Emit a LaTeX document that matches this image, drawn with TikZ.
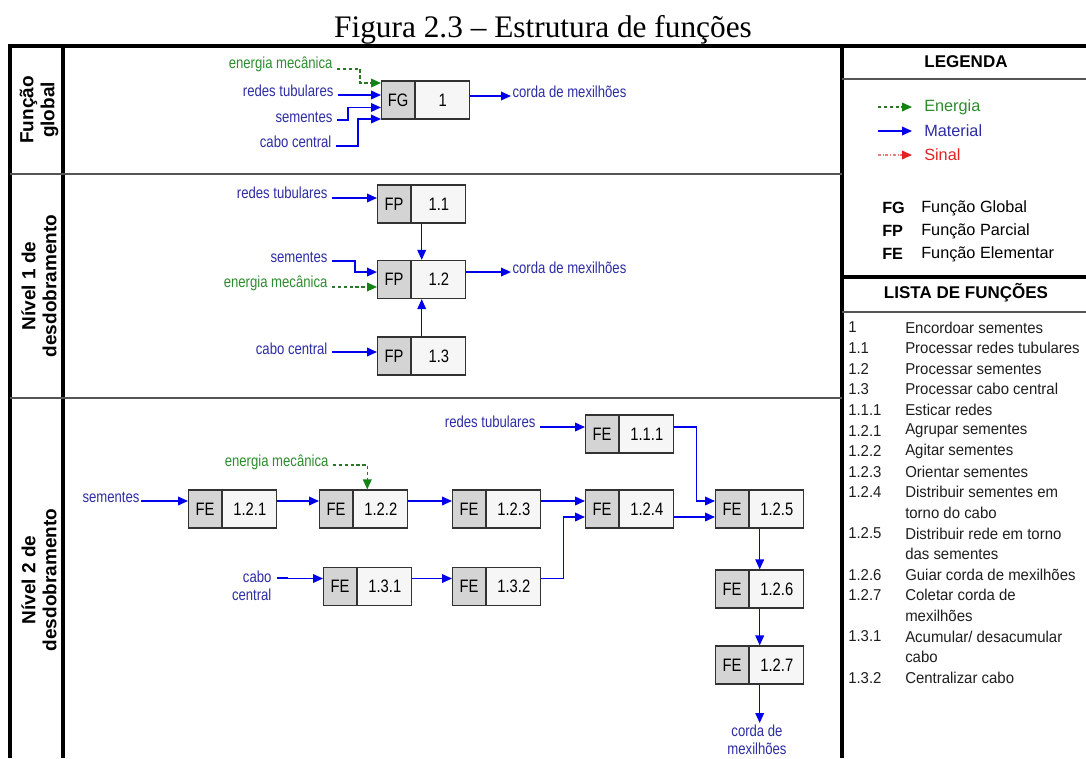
\documentclass[tikz,border=0pt]{standalone}
\usepackage{fontspec}
\setmainfont{Liberation Serif}
\newfontfamily\diagfont{Liberation Sans}[FakeStretch=0.82]
\newfontfamily\legfont{Liberation Sans}
\newfontfamily\listfont{Liberation Sans}[FakeStretch=0.95]
\usetikzlibrary{arrows.meta,calc}

\definecolor{matblue}{RGB}{0,0,235}
\definecolor{labblue}{RGB}{45,45,165}
\definecolor{enline}{RGB}{40,120,40}
\definecolor{entext}{RGB}{45,140,45}
\definecolor{entip}{RGB}{20,130,20}
\definecolor{sigred}{RGB}{225,35,35}
\definecolor{taggray}{RGB}{212,212,212}
\definecolor{numfill}{RGB}{246,246,246}
\definecolor{boxline}{RGB}{50,50,50}
\definecolor{sepgray}{RGB}{85,85,85}
\definecolor{listtext}{RGB}{30,30,30}

\tikzset{
  framerule/.style={line width=3.6pt, black},
  seprule/.style={line width=1.3pt, sepgray},
  lbl/.style={font=\diagfont\fontsize{12}{13.5}\selectfont, text=labblue, inner sep=1pt},
  enlbl/.style={lbl, text=entext},
  tagbox/.style={draw=boxline, line width=0.9pt, fill=taggray, minimum width=24.75pt,
    minimum height=28.5pt, inner sep=0pt, anchor=west,
    font=\diagfont\fontsize{13.5}{14}\selectfont},
  numbox/.style={tagbox, fill=numfill, minimum width=40.5pt},
  tip/.style={-{Triangle[length=7.5pt,width=6.5pt]}},
  mat/.style={draw=matblue, line width=1.1pt, tip},
  en/.style={draw=enline, line width=1.1pt, dash pattern=on 2.6pt off 1.8pt,
    -{Triangle[length=7.5pt,width=6.5pt,color=entip]}},
  sig/.style={draw=sigred!60, line width=1.1pt, dash pattern=on 2pt off 1.5pt on 0.6pt off 1.5pt,
    -{Triangle[length=7.5pt,width=6.5pt,color=sigred]}},
  rowlbl/.style={font=\legfont\bfseries\fontsize{14.25}{15.75}\selectfont, align=center,
    rotate=90, inner sep=0pt},
  hdr/.style={font=\legfont\bfseries\fontsize{12.75}{14}\selectfont, inner sep=0pt},
  legtxt/.style={font=\legfont\fontsize{12.2}{14}\selectfont, anchor=west, inner sep=0pt},
  listtxt/.style={font=\listfont\fontsize{11.8}{13}\selectfont, text=listtext, anchor=west, inner sep=0pt},
}

% a function box: grey tag part (name t) followed by the number part (name)
\newcommand\fnbox[5]{%
  \node[tagbox] (#1t) at (#2,#3) {#4};
  \node[numbox] (#1) at (#1t.east) {#5};
}

\begin{document}
\begin{tikzpicture}[x=0.75pt, y=-0.75pt]
\useasboundingbox (0,0) rectangle (1086,758);
\fill[white] (0,0) rectangle (1086,758);

% title
\node[font=\fontsize{23.5}{28}\selectfont, anchor=base, inner sep=0pt] (title) at (543,37)
  {Figura 2.3 – Estrutura de funções};

% frame
\draw[framerule] (8,46) -- (1086,46);
\draw[framerule] (10,44.2) -- (10,758);
\draw[framerule] (63,46) -- (63,758);
\draw[framerule] (842,46) -- (842,758);
\draw[seprule] (10,174) -- (842,174);
\draw[seprule] (10,398) -- (842,398);
\draw[seprule] (842,79) -- (1086,79);
\draw[framerule] (842,277) -- (1086,277);
\draw[seprule] (842,312) -- (1086,312);

% row titles
\node[rowlbl] (row1) at (39,110) {Função\\global};
\node[rowlbl] (row2) at (39,286) {Nível 1 de\\desdobramento};
\node[rowlbl] (row3) at (39,580) {Nível 2 de\\desdobramento};

% ---------------- global function ----------------
\fnbox{fg}{381}{100}{FG}{1}
\node[enlbl, anchor=east] (em1) at (334,64) {energia mecânica};
\node[lbl, anchor=east] (rt1) at (335,91) {redes tubulares};
\node[lbl, anchor=east] (se1) at (334,117) {sementes};
\node[lbl, anchor=east] (cc1) at (333,142) {cabo central};
\node[lbl, anchor=west] (co1) at (511,92) {corda de mexilhões};
\coordinate (fg-out) at ([yshift=3pt]fg.east);

\draw[en]  ($(em1.east)+(3,5)$) -- ++(23,0) |- ([yshift=12.75pt]fgt.west);
\draw[mat] ($(rt1.east)+(3,4)$) -- ++(12,0) |- ([yshift=3.75pt]fgt.west);
\draw[mat] ($(se1.east)+(3,3)$) -- ++(11,0) |- ([yshift=-5.6pt]fgt.west);
\draw[mat] ($(cc1.east)+(3,4)$) -- ++(22,0) |- ([yshift=-14.25pt]fgt.west);
\draw[mat] (fg-out) -- (fg-out -| co1.west);

% ---------------- level 1 ----------------
\fnbox{fp11}{377}{204}{FP}{1.1}
\fnbox{fp12}{377}{279.5}{FP}{1.2}
\fnbox{fp13}{377}{356}{FP}{1.3}
\node[lbl, anchor=east] (rt2) at (329,193) {redes tubulares};
\node[lbl, anchor=east] (se2) at (329,257) {sementes};
\node[enlbl, anchor=east] (em2) at (329,283) {energia mecânica};
\node[lbl, anchor=east] (cc2) at (329,349) {cabo central};
\node[lbl, anchor=west] (co2) at (511,268) {corda de mexilhões};
\coordinate (fp12-out) at ([yshift=5.6pt]fp12.east);

\draw[mat] ($(rt2.east)+(3,5)$) -- ++(10,0) |- ([yshift=4.5pt]fp11t.west);
\draw[mat] ($(se2.east)+(3,4)$) -- ++(23,0) |- ([yshift=5.6pt]fp12t.west);
\draw[en]  ($(em2.east)+(3,4)$) -- ++(10,0) |- ([yshift=-5.6pt]fp12t.west);
\draw[mat] ($(cc2.east)+(3,3)$) -- ++(10,0) |- ([yshift=3pt]fp13t.west);
\draw[mat] (fp12-out) -- (fp12-out -| co2.west);
\draw[mat] ($(fp11t.south west)!.5!(fp11.south east)$) -- ($(fp12t.north west)!.5!(fp12.north east)$);
\draw[mat] ($(fp13t.north west)!.5!(fp13.north east)$) -- ($(fp12t.south west)!.5!(fp12.south east)$);

% ---------------- level 2 ----------------
\fnbox{fe121}{188}{509}{FE}{1.2.1}
\fnbox{fe122}{319}{509}{FE}{1.2.2}
\fnbox{fe123}{452}{509}{FE}{1.2.3}
\fnbox{fe124}{585}{509}{FE}{1.2.4}
\fnbox{fe125}{715}{509}{FE}{1.2.5}
\fnbox{fe111}{585}{434}{FE}{1.1.1}
\fnbox{fe131}{323}{586.5}{FE}{1.3.1}
\fnbox{fe132}{452}{586.5}{FE}{1.3.2}
\fnbox{fe126}{715}{589}{FE}{1.2.6}
\fnbox{fe127}{715}{665}{FE}{1.2.7}

\node[lbl, anchor=east] (se3) at (141,497) {sementes};
\node[enlbl, anchor=east] (em3) at (330,462) {energia mecânica};
\node[lbl, anchor=east, align=right] (cc3) at (273,586) {cabo\\central};
\node[lbl, anchor=east] (rt3) at (537,422) {redes tubulares};
\node[lbl, align=center, anchor=north] (co3) at (757,723) {corda de\\mexilhões};

\draw[mat] ($(se3.east)+(0,4)$) -- ++(10,0) |- ([yshift=6pt]fe121t.west);
\draw[mat] ([yshift=6pt]fe121.east) -- ([yshift=6pt]fe122t.west);
\draw[mat] ([yshift=6pt]fe122.east) -- ([yshift=6pt]fe123t.west);
\draw[mat] ([yshift=6pt]fe123.east) -- ([yshift=6pt]fe124t.west);
\draw[en]  ($(em3.east)+(3,3)$) -| ($(fe122t.north west)!.54!(fe122.north east)$);
\draw[mat] ($(cc3.east)+(4,-8)$) -- ++(10,0) |- ([yshift=6pt]fe131t.west);
\draw[mat] ([yshift=6pt]fe131.east) -- ([yshift=6pt]fe132t.west);
\draw[mat] ([yshift=6pt]fe132.east) -- ++(22,0) |- ([yshift=-6pt]fe124t.west);
\draw[mat] ([yshift=-6pt]fe124.east) -- ([yshift=-6pt]fe125t.west);
\draw[mat] ($(rt3.east)+(3,5)$) -- ++(10,0) |- ([yshift=5.25pt]fe111t.west);
\draw[mat] ([yshift=5.25pt]fe111.east) -- ++(22,0) |- ([yshift=6pt]fe125t.west);
\draw[mat] ($(fe125t.south west)!.5!(fe125.south east)$) -- ($(fe126t.north west)!.5!(fe126.north east)$);
\draw[mat] ($(fe126t.south west)!.5!(fe126.south east)$) -- ($(fe127t.north west)!.5!(fe127.north east)$);
\coordinate (fe127-s) at ($(fe127t.south west)!.5!(fe127.south east)$);
\draw[mat] (fe127-s) -- (fe127-s |- co3.north);

% ---------------- legend ----------------
\node[hdr] (leg) at (966,62) {LEGENDA};
\node[legtxt, text=entext] (lgE) at (924,107) {Energia};
\node[legtxt, text=labblue] (lgM) at (924,131) {Material};
\node[legtxt, text=sigred] (lgS) at (924,155) {Sinal};
\draw[en]  ($(lgE.west)+(-46,0)$) -- ($(lgE.west)+(-12,0)$);
\draw[mat] ($(lgM.west)+(-46,0)$) -- ($(lgM.west)+(-12,0)$);
\draw[sig] ($(lgS.west)+(-46,0)$) -- ($(lgS.west)+(-12,0)$);

\node[legtxt, font=\legfont\bfseries\fontsize{12.2}{14}\selectfont] (kFG) at (882,208) {FG};
\node[legtxt, font=\legfont\bfseries\fontsize{12.2}{14}\selectfont] (kFP) at (882,231) {FP};
\node[legtxt, font=\legfont\bfseries\fontsize{12.2}{14}\selectfont] (kFE) at (882,254) {FE};
\node[legtxt] (tFG) at (921,208) {Função Global};
\node[legtxt] (tFP) at (921,231) {Função Parcial};
\node[legtxt] (tFE) at (921,254) {Função Elementar};

% ---------------- list of functions ----------------
\node[hdr] (lst) at (966,293) {LISTA DE FUNÇÕES};
\foreach \num/\txt [count=\k from 0] in {
  1/{Encordoar sementes},
  1.1/{Processar redes tubulares},
  1.2/{Processar sementes},
  1.3/{Processar cabo central},
  1.1.1/{Esticar redes},
  1.2.1/{Agrupar sementes},
  1.2.2/{Agitar sementes},
  1.2.3/{Orientar sementes},
  1.2.4/{Distribuir sementes em},
  {}/{torno do cabo},
  1.2.5/{Distribuir rede em torno},
  {}/{das sementes},
  1.2.6/{Guiar corda de mexilhões},
  1.2.7/{Coletar corda de},
  {}/{mexilhões},
  1.3.1/{Acumular/ desacumular},
  {}/{cabo},
  1.3.2/{Centralizar cabo}}{
  \node[listtxt] (ln\k) at (848,327.5+20.6*\k) {\num};
  \node[listtxt] (lt\k) at (905,327.5+20.6*\k) {\txt};
}
\end{tikzpicture}
\end{document}
